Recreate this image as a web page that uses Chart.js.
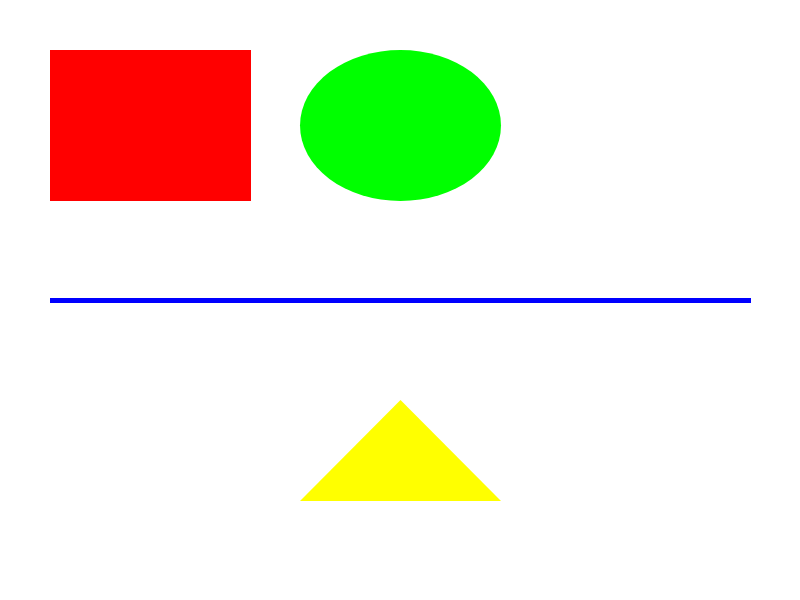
<!DOCTYPE html>
<html>
<head>
<meta charset="utf-8">
<script src="https://cdn.jsdelivr.net/npm/chart.js@4/dist/chart.umd.min.js"></script>
<style>
html,body{margin:0;padding:0;background:#fff;}
#wrap{width:800px;height:600px;}
</style>
</head>
<body>
<div id="wrap"><canvas id="c" width="800" height="600"></canvas></div>
<script>
// Shape data (in canvas-space units of the hidden axes)
const axisX = [0, 800];
const axisY = [0, 600];
const rectX = [50, 251, 251, 50];
const rectY = [50, 50, 201, 201];
const lineX = [50, 751];
const lineY = [300.5, 300.5];
const triX = [300, 400.5, 501];
const triY = [501, 400, 501];
const ellipseCenter = [400.5, 125.5];
const ellipseRadii = [100.5, 75.5];

function pts(xs, ys) { return xs.map((x, i) => ({ x: x, y: ys[i] })); }

const ellipsePlugin = {
  id: 'ellipse',
  beforeDatasetsDraw(chart) {
    const ctx = chart.ctx;
    const sx = chart.scales.x, sy = chart.scales.y;
    const cx = sx.getPixelForValue(ellipseCenter[0]);
    const cy = sy.getPixelForValue(ellipseCenter[1]);
    const rx = Math.abs(sx.getPixelForValue(ellipseCenter[0] + ellipseRadii[0]) - cx);
    const ry = Math.abs(sy.getPixelForValue(ellipseCenter[1] + ellipseRadii[1]) - cy);
    ctx.save();
    ctx.fillStyle = '#00ff00';
    ctx.beginPath();
    ctx.ellipse(cx, cy, rx, ry, 0, 0, Math.PI * 2);
    ctx.fill();
    ctx.restore();
  }
};

new Chart(document.getElementById('c'), {
  type: 'scatter',
  data: {
    datasets: [
      { label: 'rect', data: pts(rectX, rectY), showLine: true, fill: 'shape',
        backgroundColor: '#ff0000', borderColor: '#ff0000', borderWidth: 0, pointRadius: 0, tension: 0 },
      { label: 'line', data: pts(lineX, lineY), showLine: true, fill: false,
        borderColor: '#0000ff', borderWidth: 5, pointRadius: 0, borderCapStyle: 'butt' },
      { label: 'tri', data: pts(triX, triY), showLine: true, fill: 'shape',
        backgroundColor: '#ffff00', borderColor: '#ffff00', borderWidth: 0, pointRadius: 0, tension: 0 }
    ]
  },
  options: {
    responsive: false,
    animation: false,
    devicePixelRatio: 1,
    layout: { padding: 0 },
    plugins: { legend: { display: false }, tooltip: { enabled: false } },
    scales: {
      x: { type: 'linear', display: false, min: axisX[0], max: axisX[1] },
      y: { type: 'linear', display: false, min: axisY[0], max: axisY[1], reverse: true }
    }
  },
  plugins: [ellipsePlugin]
});
</script>
</body>
</html>
